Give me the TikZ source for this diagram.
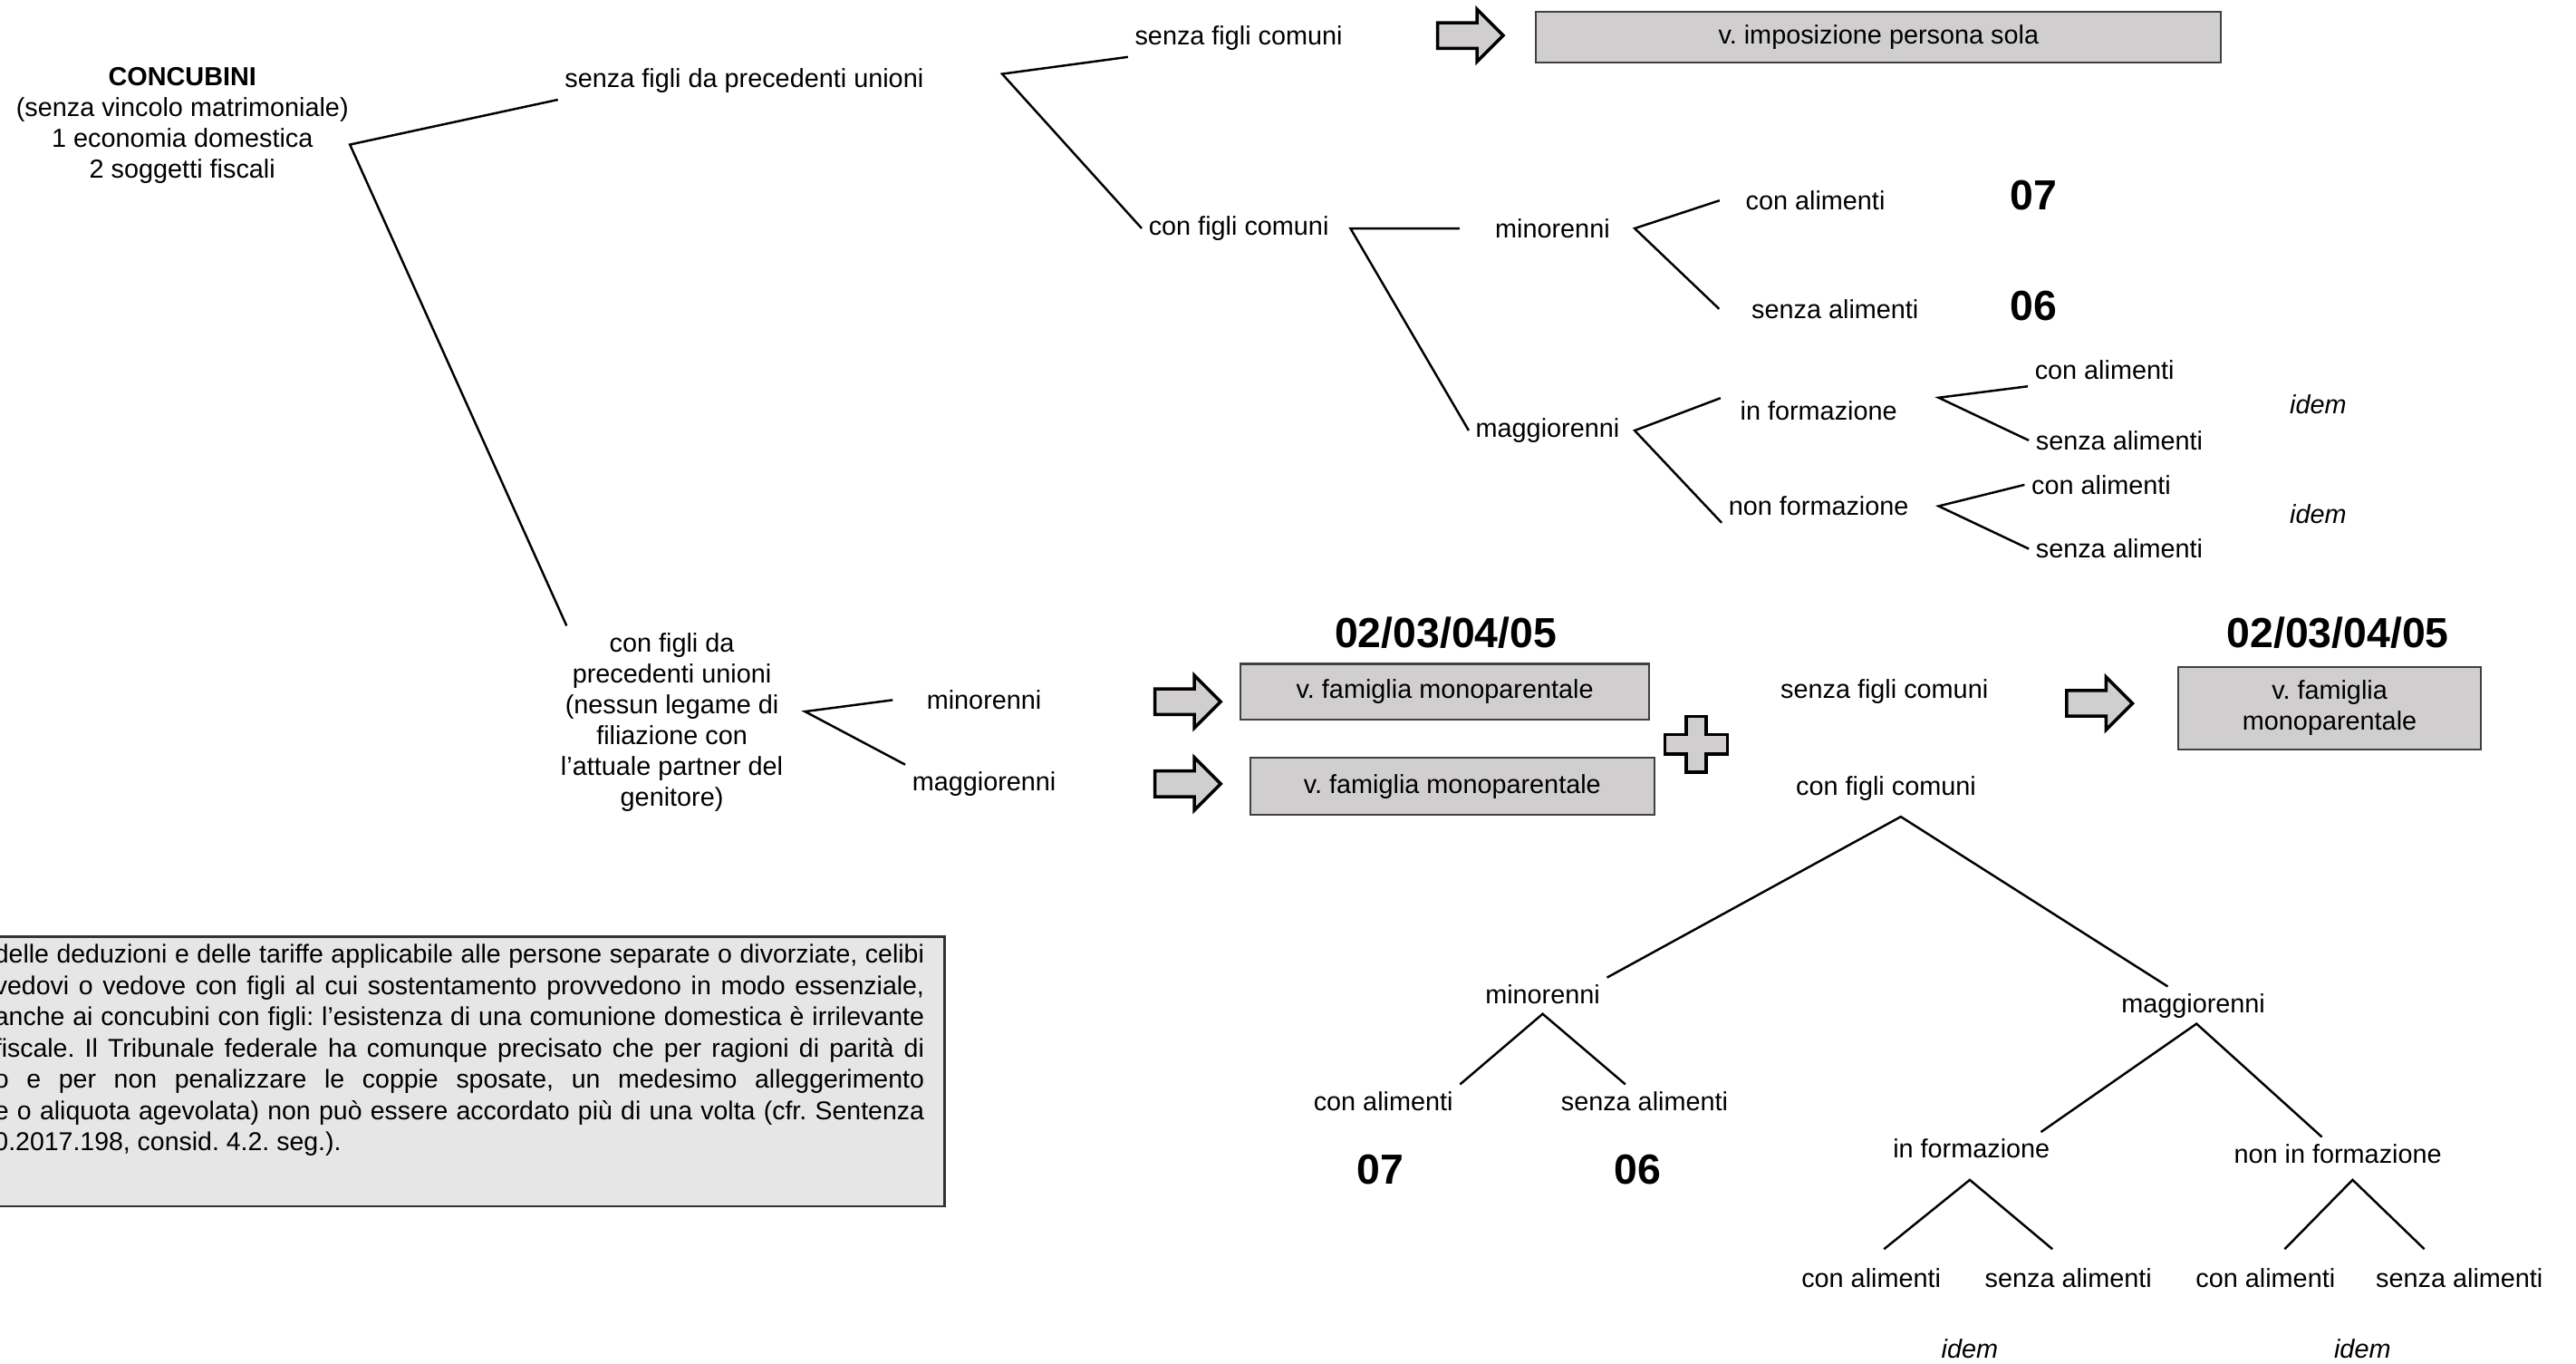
\documentclass[tikz,border=0pt]{standalone}
\usepackage{fontspec}
\setmainfont{Liberation Sans}
\frenchspacing
\definecolor{boxgrey}{RGB}{208,206,207}
\definecolor{notegrey}{RGB}{230,230,230}
\newlength{\ux}
\setlength{\ux}{0.018131cm}
\newcommand{\lblfont}{\fontsize{8.2}{9.7}\selectfont}
\newcommand{\codefont}{\fontsize{13.2}{15}\selectfont\bfseries}
\newcommand{\notefont}{\fontsize{8.1}{9.8}\selectfont}
\newcommand{\lablnode}[4]{\node[lbl] (#1) at ( #2 , #3 ) {#4};}
\newcommand{\codenode}[4]{\node[code] (#1) at ( #2 , #3 ) {#4};}
\newcommand{\fork}[3]{\draw[link] (#2) -- (#1) -- (#3);}
\newcommand{\blockarrow}[3]{\coordinate (#1) at ( #2 , #3 );
  \draw[arrowbox,shift={(#1)}] (-20,-7.8) -- (4,-7.8) -- (4,-16) -- (20,0) -- (4,16) -- (4,7.8) -- (-20,7.8) -- cycle;}
\newcommand{\plussign}[3]{\coordinate (#1) at ( #2 , #3 );
  \draw[arrowbox,shift={(#1)}] (-6,-17) -- (6,-17) -- (6,-6) -- (19,-6) -- (19,6) -- (6,6) -- (6,17) -- (-6,17) -- (-6,6) -- (-19,6) -- (-19,-6) -- (-6,-6) -- cycle;}
\newcommand{\noteline}[3]{\node[noteline] (#1) at ( 563 , #2 ) {\makebox[566\ux][s]{#3}};}
\tikzset{
  lbl/.style={inner sep=2pt, font=\lblfont, align=center},
  code/.style={inner sep=0pt, font=\codefont},
  greybox/.style={draw=black!75, fill=boxgrey, line width=0.6pt, font=\lblfont, align=center, inner sep=0pt},
  arrowbox/.style={draw=black, fill=boxgrey, line width=1pt, line join=miter},
  link/.style={line width=0.7pt},
  notebox/.style={draw=black!80, fill=notegrey, line width=0.7pt, inner sep=0pt},
  noteline/.style={anchor=east, inner sep=0pt, font=\notefont},
}

\begin{document}
\begin{tikzpicture}[x=0.018131cm, y=-0.018131cm]
\useasboundingbox (0,0) rectangle (1568,830);
\clip (0,0) rectangle (1568,830);
% root
\lablnode{conc}{111}{76.4}{\textbf{CONCUBINI}\\(senza vincolo matrimoniale)\\1 economia domestica\\2 soggetti fiscali}
\lablnode{sfpu}{453}{49}{senza figli da precedenti unioni}
\lablnode{cfpu}{409}{439.5}{con figli da\\precedenti unioni\\(nessun legame di\\filiazione con\\l’attuale partner del\\genitore)}
\coordinate (f0) at (213,88);
\fork{f0}{sfpu.south west}{[xshift=4pt]cfpu.north west}
% senza figli da precedenti unioni
\lablnode{sfc1}{754}{23}{senza figli comuni}
\lablnode{cfc1}{754}{139}{con figli comuni}
\coordinate (f1) at (610,45);
\fork{f1}{sfc1.south west}{cfc1.west}
\blockarrow{arr1}{895}{21.6}
\node[greybox, minimum width=417\ux, minimum height=31\ux] (bx1) at (1143.5,22.5) {v. imposizione persona sola};
% con figli comuni
\lablnode{min1}{945}{139}{minorenni}
\lablnode{mag1}{942}{262}{maggiorenni}
\coordinate (f2) at (822,139);
\fork{f2}{[xshift=-9pt]min1.west}{mag1.west}
% minorenni
\lablnode{ca1}{1105}{122}{con alimenti}
\lablnode{sa1}{1117}{188}{senza alimenti}
\coordinate (f3) at (995,139);
\fork{f3}{[xshift=-6pt]ca1.west}{[xshift=-8pt]sa1.west}
\codenode{c07a}{1238}{119}{07}
\codenode{c06a}{1238}{186}{06}
% maggiorenni
\lablnode{inf1}{1107}{250}{in formazione}
\lablnode{nf1}{1107}{308}{non formazione}
\coordinate (f4) at (995,262);
\fork{f4}{[shift={(-4pt,4pt)}]inf1.west}{nf1.south west}
\lablnode{ca2}{1281}{225}{con alimenti}
\lablnode{sa2}{1290}{268}{senza alimenti}
\coordinate (f5) at (1180,242);
\fork{f5}{ca2.south west}{sa2.west}
\lablnode{ca3}{1279}{295}{con alimenti}
\lablnode{sa3}{1290}{334}{senza alimenti}
\coordinate (f6) at (1180,308);
\fork{f6}{ca3.west}{sa3.west}
\lablnode{idem1}{1411}{246}{\textit{idem}}
\lablnode{idem2}{1411}{313}{\textit{idem}}
% con figli da precedenti unioni
\lablnode{min2}{599}{426}{minorenni}
\lablnode{mag2}{599}{477}{maggiorenni}
\coordinate (f7) at (490,433);
\fork{f7}{[xshift=-8.5pt]min2.west}{mag2.north west}
\blockarrow{arr2}{723}{427}
\blockarrow{arr3}{723}{477}
\codenode{code1}{880}{385}{02/03/04/05}
\node[greybox, minimum width=249\ux, minimum height=34\ux] (bx2) at (879.5,421) {v. famiglia monoparentale};
\node[greybox, minimum width=246\ux, minimum height=35\ux] (bx3) at (884,478.5) {v. famiglia monoparentale};
\plussign{plus}{1032.5}{453}
% senza figli comuni
\lablnode{sfc2}{1147}{421}{senza figli comuni}
\blockarrow{arr4}{1278}{428}
\codenode{code2}{1423}{385}{02/03/04/05}
\node[greybox, minimum width=184\ux, minimum height=50\ux] (bx4) at (1418,431) {v. famiglia\\monoparentale};
% con figli comuni (tree)
\lablnode{cfc2}{1148}{480}{con figli comuni}
\lablnode{min3}{939}{605}{minorenni}
\lablnode{mag3}{1335}{612}{maggiorenni}
\coordinate (f8) at (1157,497);
\fork{f8}{min3.north east}{[xshift=-8pt]mag3.north}
\lablnode{ca4}{842}{670}{con alimenti}
\lablnode{sa4}{1001}{670}{senza alimenti}
\coordinate (f9) at (939,617);
\fork{f9}{ca4.north east}{[xshift=-6pt]sa4.north}
\codenode{c07b}{840}{712}{07}
\codenode{c06b}{997}{712}{06}
\lablnode{inf2}{1200}{699}{in formazione}
\lablnode{ninf}{1423}{702}{non in formazione}
\coordinate (f10) at (1337,623);
\fork{f10}{[xshift=-5pt]inf2.north east}{[xshift=-5pt]ninf.north}
\lablnode{ca5}{1139}{778}{con alimenti}
\lablnode{sa5}{1259}{778}{senza alimenti}
\coordinate (f11) at (1199,718);
\fork{f11}{[shift={(4pt,4pt)}]ca5.north}{[shift={(-5pt,4pt)}]sa5.north}
\lablnode{ca6}{1379}{778}{con alimenti}
\lablnode{sa6}{1497}{778}{senza alimenti}
\coordinate (f12) at (1432,718);
\fork{f12}{[shift={(6pt,4pt)}]ca6.north}{[shift={(-11pt,4pt)}]sa6.north}
\lablnode{idem3}{1199}{821}{\textit{idem}}
\lablnode{idem4}{1438}{821}{\textit{idem}}
% note
\node[notebox, minimum width=580\ux, minimum height=164\ux] (note) at (285,652) {};
\noteline{nl1}{582}{delle deduzioni e delle tariffe applicabile alle persone separate o divorziate, celibi}
\noteline{nl2}{601}{vedovi o vedove con figli al cui sostentamento provvedono in modo essenziale,}
\noteline{nl3}{620}{anche ai concubini con figli: l’esistenza di una comunione domestica è irrilevante}
\noteline{nl4}{639}{fiscale. Il Tribunale federale ha comunque precisato che per ragioni di parità di}
\noteline{nl5}{658}{o e per non penalizzare le coppie sposate, un medesimo alleggerimento}
\noteline{nl6}{677}{e o aliquota agevolata) non può essere accordato più di una volta (cfr. Sentenza}
\node[noteline, anchor=west] (nl7) at (-4,696) {0.2017.198, consid. 4.2. seg.).};
\end{tikzpicture}
\end{document}
